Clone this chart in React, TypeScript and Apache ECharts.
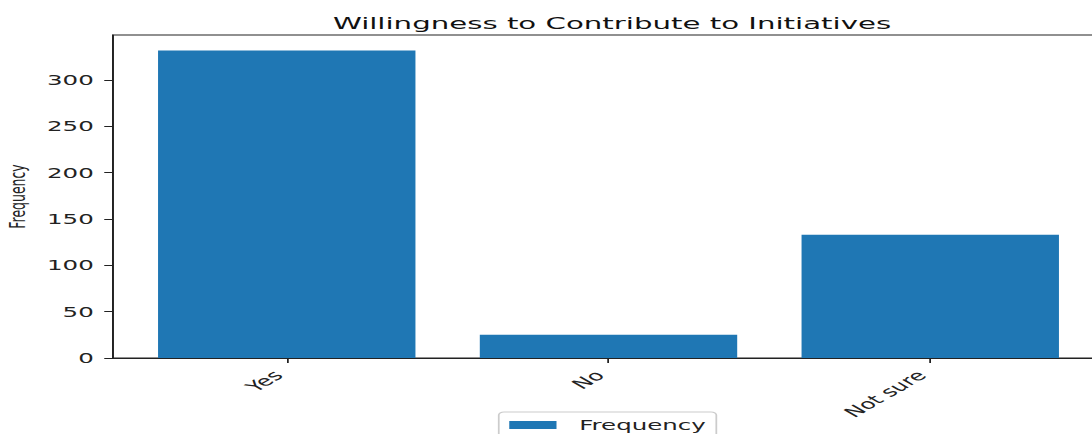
import React, { useEffect, useRef } from "react";
import * as echarts from "echarts";

const categories = ["Yes", "No", "Not sure"];
const frequencies = [332, 25, 133];
const yTickValues = [0, 50, 100, 150, 200, 250, 300];
const seriesName = "Frequency";
const titleText = "Willingness to Contribute to Initiatives";

const STRETCH = 1.75;
const PAGE_W = 1092;
const PAGE_H = 434;
const INNER_W = PAGE_W / STRETCH;

const X_MIN = -0.54;
const X_MAX = 2.54;
const GRID_LEFT = 113 / STRETCH;
const GRID_W = (1104 - 113) / STRETCH;

export default function App() {
  const ref = useRef<HTMLDivElement>(null);
  useEffect(() => {
    document.body.style.margin = "0";
    if (!ref.current) return;
    const chart = echarts.init(ref.current, null, { renderer: "svg" });
    const font = "DejaVu Sans";
    const barWidth = (0.8 * GRID_W) / (X_MAX - X_MIN);
    chart.setOption({
      animation: false,
      backgroundColor: "#ffffff",
      title: {
        text: titleText,
        left: GRID_LEFT + GRID_W / 2 - 3,
        textAlign: "center",
        top: 10,
        textStyle: { fontFamily: font, fontSize: 16.7, fontWeight: "normal", color: "#111" },
      },
      legend: {
        data: [seriesName],
        left: 285,
        top: 412,
        itemWidth: 27,
        itemHeight: 8,
        padding: [6, 6, 6, 6],
        borderColor: "#cccccc",
        borderWidth: 1,
        borderRadius: 3,
        icon: "rect",
        textStyle: { fontFamily: font, fontSize: 14, color: "#222", padding: [0, 0, 0, 8] },
      },
      grid: {
        left: GRID_LEFT,
        top: 35,
        width: GRID_W,
        height: 323,
        show: true,
        borderColor: "#222",
        borderWidth: 1,
        backgroundColor: "transparent",
        containLabel: false,
        outerBoundsMode: "none",
      },
      xAxis: {
        type: "value",
        min: X_MIN,
        max: X_MAX,
        splitLine: { show: false },
        axisLine: { show: true, onZero: false, lineStyle: { color: "#222", width: 1 } },
        axisTick: { show: true, length: 5, customValues: [0, 1, 2], lineStyle: { color: "#222" } },
        axisLabel: {
          customValues: [0, 1, 2],
          formatter: (v: number) => categories[Math.round(v)] ?? "",
          rotate: 45,
          margin: 10,
          padding: [0, 7, 0, 0],
          fontFamily: font,
          fontSize: 14,
          color: "#222",
        },
      },
      yAxis: {
        type: "value",
        min: 0,
        max: 348.6,
        name: "Frequency",
        nameLocation: "middle",
        nameGap: 44,
        nameTextStyle: { fontFamily: font, fontSize: 12.5, color: "#222" },
        splitLine: { show: false },
        axisLine: { show: true, onZero: false, lineStyle: { color: "#222", width: 1 } },
        axisTick: { show: true, length: 5, customValues: yTickValues, lineStyle: { color: "#222" } },
        axisLabel: {
          customValues: yTickValues,
          margin: 11,
          fontFamily: font,
          fontSize: 14,
          color: "#222",
        },
      },
      series: [
        {
          name: seriesName,
          type: "bar",
          barWidth: barWidth,
          itemStyle: { color: "#1f77b4" },
          data: frequencies.map((v, i) => [i, v]),
        },
      ],
    });
    return () => chart.dispose();
  }, []);
  return (
    <div style={{ width: PAGE_W, height: PAGE_H, overflow: "hidden", position: "relative" }}>
      <div
        ref={ref}
        style={{
          width: INNER_W,
          height: PAGE_H,
          transform: `scaleX(${STRETCH})`,
          transformOrigin: "0 0",
        }}
      />
    </div>
  );
}
